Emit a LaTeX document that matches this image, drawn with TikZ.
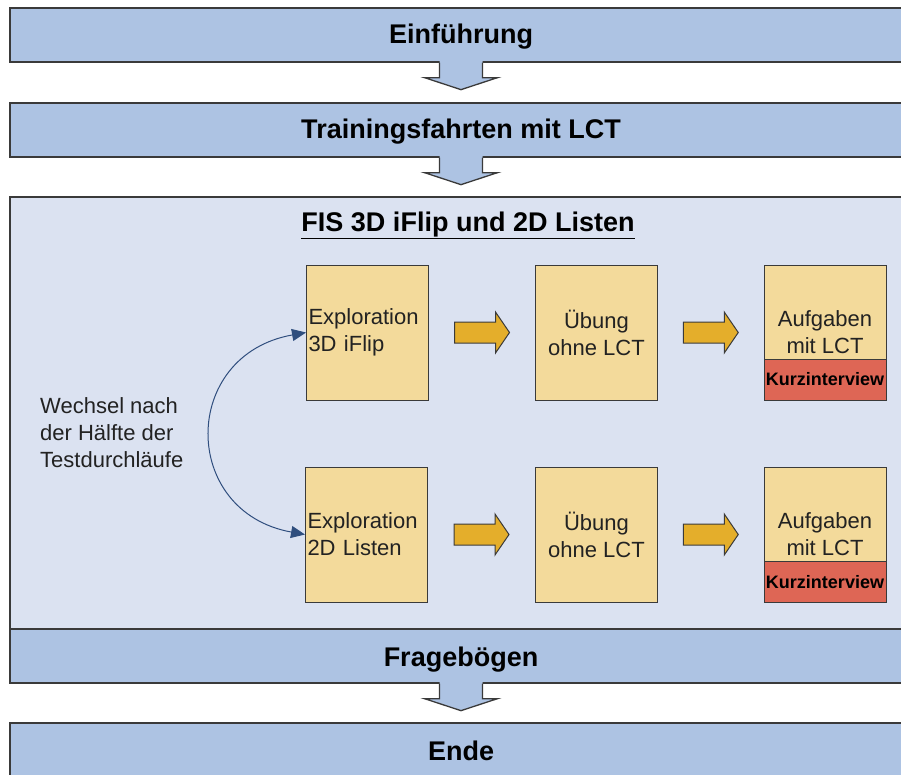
\documentclass[tikz,border=0pt]{standalone}
\usepackage{fontspec}
\setmainfont{Liberation Sans}
\usetikzlibrary{arrows.meta,calc}
\definecolor{bandblue}{HTML}{ADC3E3}
\definecolor{panelblue}{HTML}{DBE2F1}
\definecolor{boxyellow}{HTML}{F3DA9B}
\definecolor{boxred}{HTML}{DE6655}
\definecolor{arroworange}{HTML}{E4AE2B}
\definecolor{curveblue}{HTML}{2F4E7E}
\definecolor{linegray}{HTML}{3A3A3A}
\definecolor{textgray}{HTML}{222222}
\newcommand\myBandFont{\fontsize{27}{31}\selectfont\bfseries}
\newcommand\myBoxFont{\fontsize{22}{27}\selectfont}
\newcommand\myKurzFont{\fontsize{18}{20}\selectfont\bfseries}
\tikzset{
  band/.style={draw=linegray, line width=1.3pt, fill=bandblue, minimum width=902pt,
    minimum height=54pt, inner sep=0pt, font=\myBandFont, text=black,
    text height=20pt, text depth=4pt},
  lowband/.style={band, text height=21pt, text depth=0pt},
  panel/.style={draw=linegray, line width=1.3pt, fill=panelblue, minimum width=902pt,
    minimum height=432pt, inner sep=0pt},
  ybox/.style={draw=linegray, line width=1pt, fill=boxyellow, minimum width=122pt,
    minimum height=135pt, inner sep=0pt, font=\myBoxFont, text=textgray, align=center},
  xbox/.style={ybox, text width=118pt, inner sep=2pt, align=left},
  rbox/.style={draw=linegray, line width=1pt, fill=boxred, minimum width=122pt,
    minimum height=41pt, inner sep=0pt, font=\myKurzFont, text=black},
  plain/.style={font=\myBoxFont, text=textgray, align=left, inner sep=0pt},
  downarrow/.pic={
    \fill[bandblue] (-21.5,-3) -- (-21.5,15) -- (-36.5,15) -- (0,27) -- (36.5,15)
      -- (21.5,15) -- (21.5,-3) -- cycle;
    \draw[linegray, line width=1.3pt, line join=miter] (-21.5,0) -- (-21.5,15)
      -- (-36.5,15) -- (0,27) -- (36.5,15) -- (21.5,15) -- (21.5,0);
  },
  blockarrow/.pic={
    \draw[fill=arroworange, draw=linegray, line width=1pt, line join=miter]
      (-27.5,-10.5) -- (13.5,-10.5) -- (13.5,-20.5) -- (27.5,0) -- (13.5,20.5)
      -- (13.5,10.5) -- (-27.5,10.5) -- cycle;
  }
}
\begin{document}
\begin{tikzpicture}[x=1pt,y=-1pt]
\useasboundingbox (0,0) rectangle (901,774);
\clip (0,0) rectangle (901,774);
\fill[white] (0,0) rectangle (901,774);

% top bands
\node[band] (intro) at (461,35) {Einführung};
\pic at (intro.south) {downarrow};
\node[band] (train) at (461,130) {Trainingsfahrten mit LCT};
\pic at (train.south) {downarrow};

% panel
\node[panel] (fis) at (461,413) {};
\node[font=\myBandFont, anchor=base, inner sep=0pt] (title) at (468,231)
  {\underline{FIS 3D iFlip und 2D Listen}};

% upper row
\node[xbox] (exp1) at (367.5,332.5) {Exploration\\3D iFlip};
\node[ybox] (ueb1) at (596.5,332.5) {\strut Übung\\ohne LCT};
\node[ybox] (auf1) at (825,332.5) {Aufgaben\\mit LCT};
\node[rbox] (kurz1) at (825,379.5) {Kurzinterview};
\pic at ($(exp1.east)!0.5!(ueb1.west)$) {blockarrow};
\pic at ($(ueb1.east)!0.5!(auf1.west)$) {blockarrow};

% lower row
\node[xbox] (exp2) at (366.5,534.5) {Exploration\\2D Listen};
\node[ybox] (ueb2) at (596.5,534.5) {\strut Übung\\ohne LCT};
\node[ybox] (auf2) at (825,534.5) {Aufgaben\\mit LCT};
\node[rbox] (kurz2) at (825,582) {Kurzinterview};
\pic at ($(exp2.east)!0.5!(ueb2.west)$) {blockarrow};
\pic at ($(ueb2.east)!0.5!(auf2.west)$) {blockarrow};

% switch annotation
\node[plain, anchor=west] (wechsel) at (40,433)
  {Wechsel nach\\der Hälfte der\\Testdurchläufe};
\draw[curveblue, line width=1pt,
  {Triangle[length=14pt,width=12pt]}-{Triangle[length=14pt,width=12pt]}]
  (exp1.west) .. controls (180,355) and (180,512) .. (exp2.west);

% bottom bands
\node[lowband] (frage) at (461,656) {Fragebögen};
\pic at (frage.south) {downarrow};
\node[lowband] (ende) at (461,750) {Ende};
\end{tikzpicture}
\end{document}
